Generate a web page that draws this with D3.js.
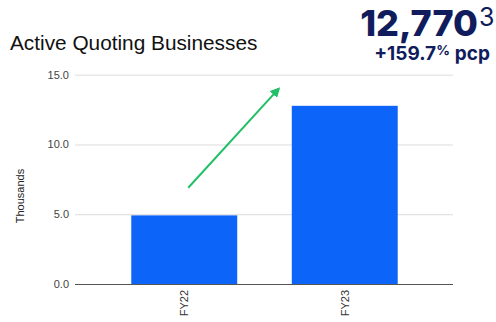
<!DOCTYPE html>
<html>
<head>
<meta charset="utf-8">
<script src="https://cdn.jsdelivr.net/npm/d3@7"></script>
<style>
  body { margin: 0; background: #fff; overflow: hidden; }
  svg { display: block; }
  svg text { font-family: "Liberation Sans", Arial, sans-serif; }
</style>
</head>
<body>
<div id="chart"></div>
<script>
// data
var categories = ["FY22", "FY23"];
var values = [4.917, 12.770];
var yTicks = [0, 5, 10, 15];
var headline = "12,770";
var headlineNote = "3";
var changeValue = "+159.7";
var changeUnit = "%";
var changeLabel = "pcp";

var svgWidth = 496;
var svgHeight = 322;

var svg = d3.select("#chart")
  .append("svg")
  .attr("width", svgWidth)
  .attr("height", svgHeight);

// plot area
var gridLeft = 75, gridRight = 453;
var plotTop = 74.7, plotBottom = 284;

var x = d3.scaleBand()
  .domain(categories)
  .range([104, 425])
  .paddingInner(0.34)
  .paddingOuter(0.17);

var y = d3.scaleLinear()
  .domain([0, 15])
  .range([plotBottom, plotTop]);

// gridlines + y labels
var yAxis = svg.append("g")
  .attr("transform", `translate(${gridLeft},0)`)
  .call(d3.axisLeft(y)
    .tickValues(yTicks)
    .tickSize(-(gridRight - gridLeft))
    .tickPadding(6)
    .tickFormat(d3.format(".1f")));

yAxis.select(".domain").remove();
yAxis.selectAll(".tick line")
  .attr("stroke", "#dcdcdc")
  .attr("stroke-width", 1);
yAxis.selectAll(".tick text")
  .attr("fill", "#444")
  .style("font-size", "11px");

// bars
svg.append("g")
  .selectAll("rect")
  .data(values)
  .enter()
  .append("rect")
  .attr("x", (d, i) => x(categories[i]))
  .attr("y", d => y(d))
  .attr("width", x.bandwidth())
  .attr("height", d => y(0) - y(d))
  .attr("fill", "#0c64f8");

// baseline
svg.append("line")
  .attr("x1", gridLeft)
  .attr("x2", gridRight)
  .attr("y1", y(0) + 0.5)
  .attr("y2", y(0) + 0.5)
  .attr("stroke", "#555")
  .attr("stroke-width", 1.2);

// x labels (rotated)
svg.append("g")
  .selectAll("text")
  .data(categories)
  .enter()
  .append("text")
  .attr("transform", d => `translate(${x(d) + x.bandwidth() / 2 + 4},${plotBottom + 6}) rotate(-90)`)
  .attr("text-anchor", "end")
  .attr("fill", "#333")
  .style("font-size", "11px")
  .text(d => d);

// y axis title
svg.append("text")
  .attr("transform", `translate(24,196) rotate(-90)`)
  .attr("text-anchor", "middle")
  .attr("fill", "#222")
  .style("font-size", "11px")
  .text("Thousands");

// chart title
svg.append("text")
  .attr("x", 10)
  .attr("y", 50)
  .attr("fill", "#111")
  .style("font-size", "20.8px")
  .text("Active Quoting Businesses");

// growth arrow
svg.append("defs").append("marker")
  .attr("id", "arrowhead")
  .attr("viewBox", "0 0 10 10")
  .attr("refX", 8)
  .attr("refY", 5)
  .attr("markerWidth", 5)
  .attr("markerHeight", 5)
  .attr("orient", "auto")
  .append("path")
  .attr("d", "M0,0 L10,5 L0,10 z")
  .attr("fill", "#21bf66");

svg.append("line")
  .attr("x1", x("FY22") + x.bandwidth() / 2 + 4)
  .attr("y1", y(6.9))
  .attr("x2", x("FY23") - 13)
  .attr("y2", y(14.0))
  .attr("stroke", "#21bf66")
  .attr("stroke-width", 2)
  .attr("marker-end", "url(#arrowhead)");

// headline figure
var navy = "#101c5c";
svg.append("text")
  .attr("x", 478)
  .attr("y", 36)
  .attr("text-anchor", "end")
  .attr("fill", navy)
  .style("font-family", "Inter, 'Noto Sans', sans-serif")
  .style("font-size", "36px")
  .style("font-weight", "800")
  .text(headline);

svg.append("text")
  .attr("x", 479)
  .attr("y", 26)
  .attr("fill", navy)
  .style("font-family", "Inter, 'Noto Sans', sans-serif")
  .style("font-size", "25px")
  .style("font-weight", "400")
  .text(headlineNote);

var sub = svg.append("text")
  .attr("x", 490)
  .attr("y", 60)
  .attr("text-anchor", "end")
  .attr("fill", navy)
  .style("font-family", "Inter, 'Noto Sans', sans-serif")
  .style("font-weight", "700");
sub.append("tspan")
  .style("font-size", "19px")
  .text(changeValue);
sub.append("tspan")
  .attr("dy", -5)
  .style("font-size", "13.5px")
  .text(changeUnit);
sub.append("tspan")
  .attr("dx", 5)
  .attr("dy", 5)
  .style("font-size", "19px")
  .text(changeLabel);
</script>
</body>
</html>
